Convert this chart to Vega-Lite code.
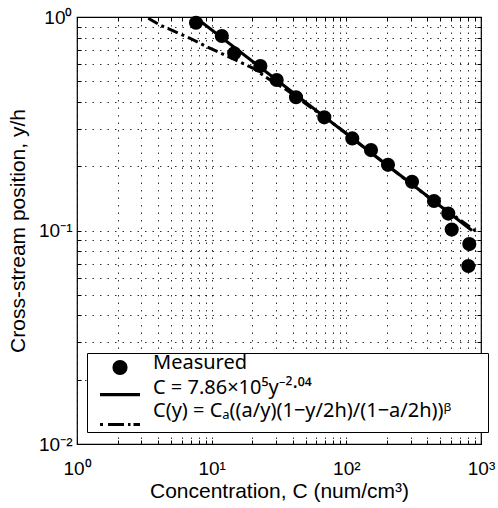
{
  "$schema": "https://vega.github.io/schema/vega-lite/v6.json",
  "width": 404,
  "height": 427,
  "autosize": "none",
  "padding": {"left": 77, "top": 17, "right": 17, "bottom": 64},
  "background": "white",
  "config": {
    "view": {"stroke": "black", "strokeWidth": 1.2},
    "font": "Liberation Sans"
  },
  "datasets": {
    "pts": [
      {"C": 7.65, "y": 0.94, "series": "Measured"},
      {"C": 11.9, "y": 0.815, "series": "Measured"},
      {"C": 14.7, "y": 0.676, "series": "Measured"},
      {"C": 23.0, "y": 0.589, "series": "Measured"},
      {"C": 30.4, "y": 0.507, "series": "Measured"},
      {"C": 42.3, "y": 0.421, "series": "Measured"},
      {"C": 68.6, "y": 0.339, "series": "Measured"},
      {"C": 110.7, "y": 0.27, "series": "Measured"},
      {"C": 152.4, "y": 0.238, "series": "Measured"},
      {"C": 203.8, "y": 0.203, "series": "Measured"},
      {"C": 307.4, "y": 0.169, "series": "Measured"},
      {"C": 447.7, "y": 0.1375, "series": "Measured"},
      {"C": 571.6, "y": 0.12, "series": "Measured"},
      {"C": 606, "y": 0.101, "series": "Measured"},
      {"C": 818.7, "y": 0.0864, "series": "Measured"},
      {"C": 805, "y": 0.0682, "series": "Measured"}
    ],
    "fit": [
      {"C": 7.52, "y": 1.0},
      {"C": 857, "y": 0.1}
    ],
    "curve": [
      {"C": 3.38, "y": 0.986},
      {"C": 4.13, "y": 0.917},
      {"C": 6.9, "y": 0.795},
      {"C": 9.19, "y": 0.726},
      {"C": 14.1, "y": 0.641},
      {"C": 20.4, "y": 0.575},
      {"C": 27.9, "y": 0.501},
      {"C": 36.1, "y": 0.455},
      {"C": 90, "y": 0.3},
      {"C": 205, "y": 0.2},
      {"C": 370, "y": 0.15},
      {"C": 600, "y": 0.12},
      {"C": 920, "y": 0.099}
    ]
  },
  "layer": [
    {
      "data": {"name": "fit"},
      "mark": {"type": "line", "color": "black", "strokeWidth": 3, "clip": true},
      "encoding": {
        "x": {
          "field": "C", "type": "quantitative",
          "scale": {"type": "log", "domain": [1, 1000], "nice": false},
          "axis": {
            "orient": "top", "title": null, "labels": false, "grid": false, "domain": false,
            "values": [1,2,3,4,5,6,7,8,9,10,20,30,40,50,60,70,80,90,100,200,300,400,500,600,700,800,900,1000],
            "tickSize": -4, "tickColor": "black"
          }
        },
        "y": {
          "field": "y", "type": "quantitative",
          "scale": {"type": "log", "domain": [0.01, 1], "nice": false},
          "axis": {
            "orient": "right", "title": null, "labels": false, "grid": false, "domain": false,
            "values": [0.01,0.02,0.03,0.04,0.05,0.06,0.07,0.08,0.09,0.1,0.2,0.3,0.4,0.5,0.6,0.7,0.8,0.9,1],
            "tickSize": -4, "tickColor": "black"
          }
        }
      }
    },
    {
      "data": {"name": "curve"},
      "mark": {"type": "line", "color": "black", "strokeWidth": 3, "strokeDash": [11, 4, 3, 4], "clip": true},
      "encoding": {
        "x": {"field": "C", "type": "quantitative", "axis": null},
        "y": {"field": "y", "type": "quantitative", "axis": null}
      }
    },
    {
      "data": {"name": "pts"},
      "mark": {"type": "point", "filled": true, "color": "black", "size": 200, "opacity": 1},
      "encoding": {
        "x": {
          "field": "C", "type": "quantitative",
          "axis": {
            "orient": "bottom",
            "title": "Concentration, C (num/cm³)",
            "values": [1,2,3,4,5,6,7,8,9,10,20,30,40,50,60,70,80,90,100,200,300,400,500,600,700,800,900,1000],
            "labelExpr": "datum.value == 1 ? '10⁰' : datum.value == 10 ? '10¹' : datum.value == 100 ? '10²' : datum.value == 1000 ? '10³' : ''",
            "grid": true, "gridColor": "black", "gridDash": [1.5, 6], "gridOpacity": 0.8, "gridWidth": 1,
            "domain": false, "tickSize": -4, "tickColor": "black",
            "labelFont": "Liberation Sans", "labelFontSize": 19, "labelColor": "black",
            "labelPadding": 19, "labelOverlap": false, "labelFlush": false,
            "titleFont": "Liberation Sans", "titleFontSize": 21, "titleFontWeight": "normal", "titleColor": "black",
            "titlePadding": 2
          }
        },
        "y": {
          "field": "y", "type": "quantitative",
          "axis": {
            "orient": "left",
            "title": "Cross-stream position, y/h",
            "values": [0.01,0.02,0.03,0.04,0.05,0.06,0.07,0.08,0.09,0.1,0.2,0.3,0.4,0.5,0.6,0.7,0.8,0.9,1],
            "labelExpr": "datum.value == 1 ? '10⁰' : datum.value == 0.1 ? '10⁻¹' : datum.value == 0.01 ? '10⁻²' : ''",
            "grid": true, "gridColor": "black", "gridDash": [1.5, 6], "gridOpacity": 0.8, "gridWidth": 1,
            "domain": false, "tickSize": -4, "tickColor": "black",
            "labelFont": "Liberation Sans", "labelFontSize": 19, "labelColor": "black",
            "labelPadding": 9, "labelOverlap": false, "labelFlush": false,
            "titleFont": "Liberation Sans", "titleFontSize": 21, "titleFontWeight": "normal", "titleColor": "black",
            "titlePadding": 10
          }
        }
      }
    },
    {
      "data": {"name": "pts"},
      "transform": [{"filter": "false"}],
      "mark": {"type": "point", "filled": true, "color": "black", "opacity": 1},
      "encoding": {
        "x": {"field": "C", "type": "quantitative", "axis": null},
        "y": {"field": "y", "type": "quantitative", "axis": null},
        "shape": {
          "field": "series", "type": "nominal",
          "scale": {
            "domain": ["Measured", "C = 7.86×10⁵y⁻²·⁰⁴", "C(y) = Cₐ((a/y)(1−y/2h)/(1−a/2h))ᵝ"],
            "range": [
              "M-0.75,0.45A0.75,0.75,0,1,0,0.75,0.45A0.75,0.75,0,1,0,-0.75,0.45Z",
              "M-2,0.5H2V0.82H-2Z",
              "M-2,1.2H-1.7V1.5H-2ZM-1.2,1.2H0.4V1.5H-1.2ZM0.8,1.2H1.05V1.5H0.8ZM1.35,1.2H2V1.5H1.35ZM0,2.1M36.8,1"
            ]
          },
          "legend": {
            "orient": "none", "legendX": 10, "legendY": 336,
            "title": null,
            "strokeColor": "black", "fillColor": "white", "padding": 0,
            "symbolSize": 400, "symbolFillColor": "black", "symbolStrokeColor": "black", "symbolStrokeWidth": 0,
            "symbolOffset": 23, "labelOffset": 23,
            "labelFont": "Noto Sans", "labelFontSize": 20, "labelColor": "black", "labelLimit": 600,
            "rowPadding": 3
          }
        }
      }
    }
  ],
  "resolve": {"axis": {"x": "independent", "y": "independent"}}
}
